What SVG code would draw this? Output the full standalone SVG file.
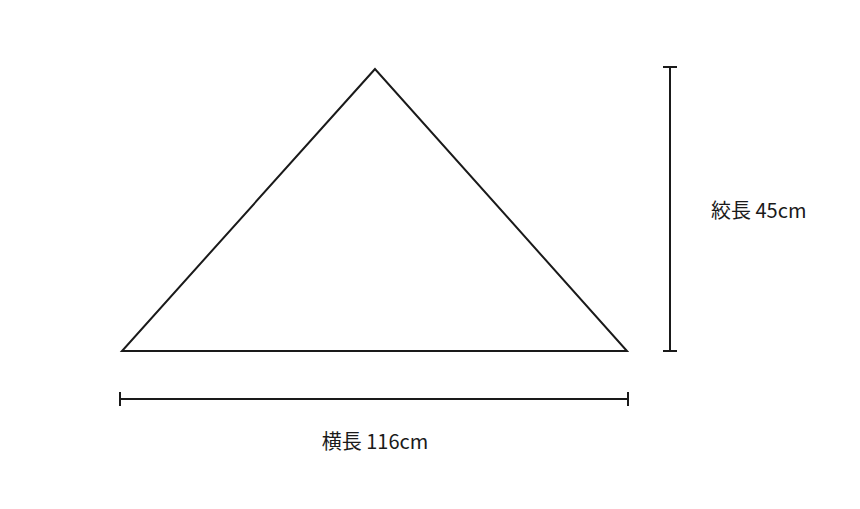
<svg xmlns="http://www.w3.org/2000/svg" width="860" height="509" viewBox="0 0 860 509">
<style>
.ln{stroke:#1a1a1a;stroke-width:2;fill:none}
.t{font-family:"Noto Sans CJK JP","Noto Sans",sans-serif;font-size:20px;fill:#1a1a1a}
</style>
<rect width="860" height="509" fill="#ffffff"/>
<g id="triangle">
<polygon class="ln" points="375,69 122,351 627,351"/>
</g>
<g id="connectors">
<line class="ln" x1="670" y1="67" x2="670" y2="351"/>
<line class="ln" x1="663" y1="67" x2="677" y2="67"/>
<line class="ln" x1="663" y1="351" x2="677" y2="351"/>
<line class="ln" x1="120" y1="399" x2="628" y2="399"/>
<line class="ln" x1="120" y1="392" x2="120" y2="406"/>
<line class="ln" x1="628" y1="392" x2="628" y2="406"/>
</g>
<g id="label-height">
<text class="t" x="711" y="218">絞長 45cm</text>
</g>
<g id="label-width">
<text class="t" x="375" y="449" text-anchor="middle">横長 116cm</text>
</g>
</svg>
